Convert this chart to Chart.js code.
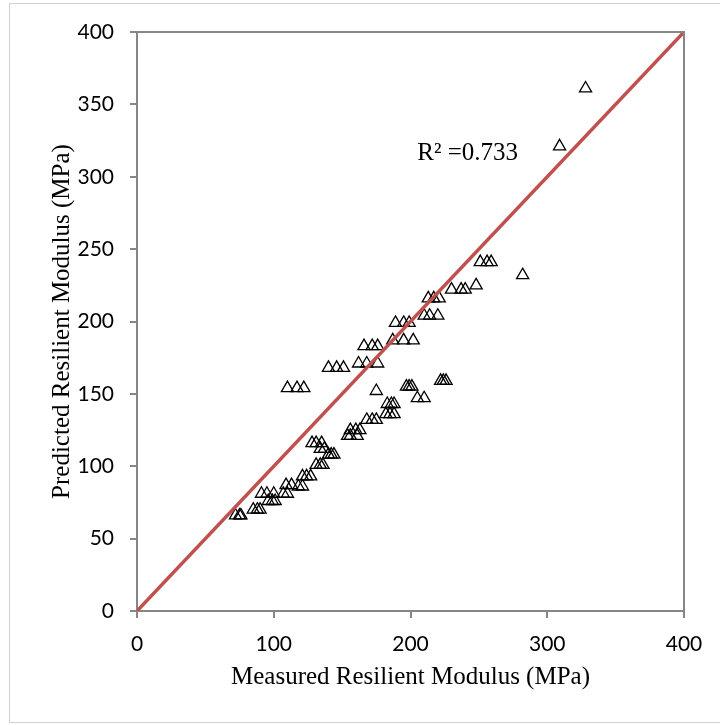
<!DOCTYPE html>
<html>
<head>
<meta charset="utf-8">
<script src="https://cdn.jsdelivr.net/npm/chart.js@4/dist/chart.umd.min.js"></script>
<style>
  html, body { margin: 0; padding: 0; background: #fff; }
  #wrap { position: relative; width: 720px; height: 725px; }
  #frame { position: absolute; left: 9px; top: 3px; width: 720px; height: 720px; border: 1px solid #d0d0d0; box-sizing: border-box; pointer-events: none; }
</style>
</head>
<body>
<div id="wrap">
  <canvas id="mrChart" width="720" height="725"></canvas>
  <div id="frame"></div>
</div>
<script>
// measured vs predicted resilient modulus (MPa)
const measured = [
  328, 309, 282,
  251, 256, 259, 248,
  230, 237, 240,
  213, 217, 221,
  210, 214, 220,
  189, 195, 199,
  187, 195, 202,
  166, 172, 176,
  162, 168, 176,
  140, 146, 151,
  110, 117, 122,
  175,
  197, 199, 201,
  205, 210,
  222, 224, 226,
  183, 186, 188,
  182, 185, 188,
  168, 172, 175,
  156, 160, 163,
  154, 156, 161,
  128, 131, 135,
  134, 137,
  140, 142, 144,
  131, 134, 136,
  121, 124, 127,
  109, 113,
  118, 121,
  91, 95, 100,
  107, 110,
  96, 99, 101,
  85, 88, 90,
  72, 75, 76
];
const predicted = [
  361, 321, 232,
  241, 241, 241, 225,
  222, 222, 222,
  216, 216, 216,
  204, 204, 204,
  199, 199, 199,
  187, 187, 187,
  183, 183, 183,
  171, 171, 171,
  168, 168, 168,
  154, 154, 154,
  152,
  155, 155, 155,
  147, 147,
  159, 159, 159,
  143, 143, 143,
  136, 136, 136,
  132, 132, 132,
  125, 125, 125,
  121, 121, 121,
  116, 116, 116,
  112, 112,
  108, 108, 108,
  101, 101, 101,
  93, 93, 93,
  87, 87,
  86, 86,
  81, 81, 81,
  81, 81,
  76, 76, 76,
  70, 70, 70,
  66, 66, 66
];

// line of equality
const lineX = [0, 400];
const lineY = [0, 400];

const r2Text = "R\u00B2 =0.733";
const r2At = [205, 316];

const axisGray = "#868686";

const plotBox = {
  id: "plotBox",
  afterDatasetsDraw(chart) {
    const a = chart.chartArea, ctx = chart.ctx;
    ctx.save();
    ctx.strokeStyle = axisGray;
    ctx.lineWidth = 2;
    ctx.beginPath();
    ctx.moveTo(a.left, a.top);
    ctx.lineTo(a.right, a.top);
    ctx.lineTo(a.right, a.bottom);
    ctx.stroke();
    ctx.restore();
  }
};

const r2Label = {
  id: "r2Label",
  afterDraw(chart) {
    const ctx = chart.ctx;
    const px = chart.scales.x.getPixelForValue(r2At[0]);
    const py = chart.scales.y.getPixelForValue(r2At[1]);
    ctx.save();
    ctx.font = '25px "Liberation Serif", "Times New Roman", serif';
    ctx.fillStyle = "#000";
    ctx.textAlign = "left";
    ctx.textBaseline = "middle";
    ctx.fillText(r2Text, px, py);
    ctx.restore();
  }
};

const tickFont = { family: "Lato, 'Open Sans', sans-serif", size: 21 };
const titleFont = { family: "'Liberation Serif', 'Times New Roman', serif", size: 25 };

new Chart(document.getElementById("mrChart").getContext("2d"), {
  type: "scatter",
  data: {
    datasets: [
      {
        type: "line",
        data: lineX.map((x, i) => ({ x: x, y: lineY[i] })),
        borderColor: "#C0504D",
        borderWidth: 3.5,
        pointRadius: 0,
        fill: false
      },
      {
        data: measured.map((x, i) => ({ x: x, y: predicted[i] })),
        pointStyle: "triangle",
        pointRadius: 7,
        pointBorderWidth: 1.3,
        pointBorderColor: "#000",
        pointBackgroundColor: "rgba(0,0,0,0)"
      }
    ]
  },
  options: {
    responsive: false,
    animation: false,
    layout: { padding: { left: 40, right: 36, top: 32, bottom: 14 } },
    plugins: { legend: { display: false }, tooltip: { enabled: false } },
    scales: {
      x: {
        type: "linear",
        min: 0, max: 400,
        afterFit: s => { s.height = 100; },
        ticks: { stepSize: 100, color: "#000", font: tickFont, padding: 14 },
        grid: { drawOnChartArea: false, tickLength: 7, color: axisGray, lineWidth: 2 },
        border: { color: axisGray, width: 2 },
        title: { display: true, text: "Measured Resilient Modulus (MPa)", color: "#000", font: titleFont, padding: { top: 0, bottom: 19 } }
      },
      y: {
        type: "linear",
        min: 0, max: 400,
        afterFit: s => { s.width = 97; },
        ticks: { stepSize: 50, color: "#000", font: tickFont, padding: 16 },
        grid: { drawOnChartArea: false, tickLength: 7, color: axisGray, lineWidth: 2 },
        border: { color: axisGray, width: 2 },
        title: { display: true, text: "Predicted Resilient Modulus (MPa)", color: "#000", font: titleFont, padding: { top: 7, bottom: 0 } }
      }
    }
  },
  plugins: [plotBox, r2Label]
});
</script>
</body>
</html>
